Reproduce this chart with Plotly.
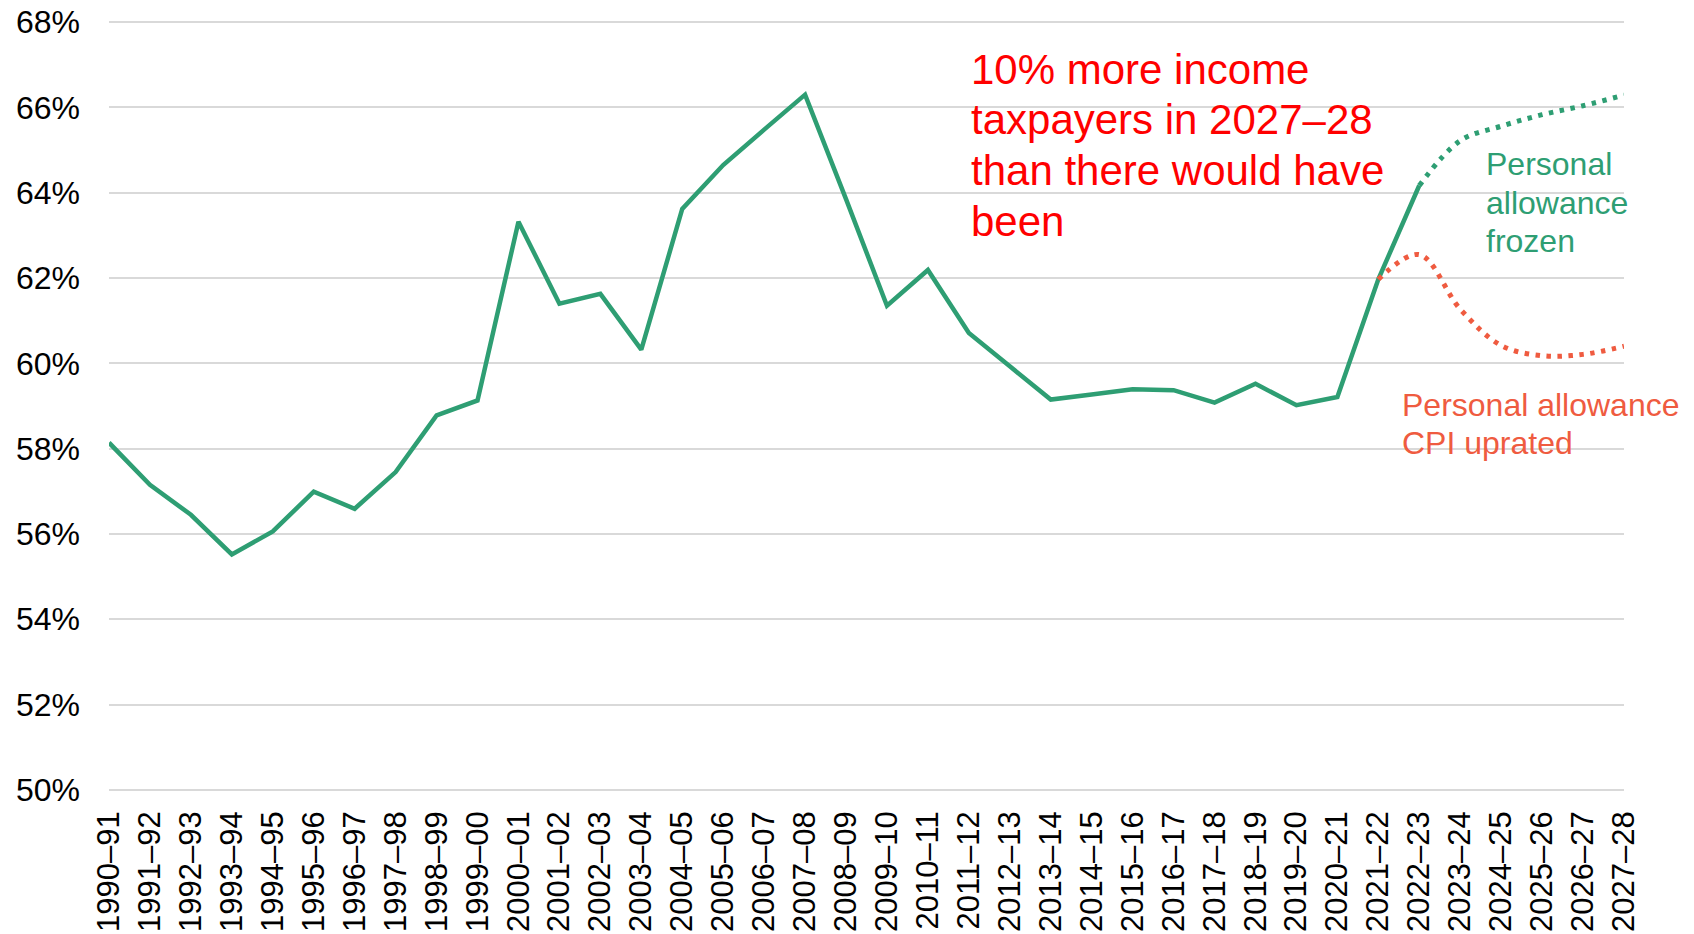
import plotly.graph_objects as go

# ---- data ----
years = ["1990–91", "1991–92", "1992–93", "1993–94", "1994–95", "1995–96", "1996–97",
         "1997–98", "1998–99", "1999–00", "2000–01", "2001–02", "2002–03", "2003–04",
         "2004–05", "2005–06", "2006–07", "2007–08", "2008–09", "2009–10", "2010–11",
         "2011–12", "2012–13", "2013–14", "2014–15", "2015–16", "2016–17", "2017–18",
         "2018–19", "2019–20", "2020–21", "2021–22", "2022–23", "2023–24", "2024–25",
         "2025–26", "2026–27", "2027–28"]

outturn_years = years[:33]
outturn = [58.14, 57.15, 56.45, 55.52, 56.06, 56.99, 56.59, 57.45, 58.78, 59.13,
           63.32, 61.40, 61.63, 60.32, 63.62, 64.65, 65.48, 66.30, 63.85, 61.35,
           62.19, 60.71, 59.93, 59.15, 59.27, 59.39, 59.37, 59.08, 59.52, 59.02,
           59.21, 61.97, 64.17]

frozen_years = years[32:]
frozen = [64.17, 65.22, 65.56, 65.83, 66.04, 66.29]

cpi_years = years[31:]
cpi = [61.97, 62.55, 61.27, 60.42, 60.18, 60.21, 60.40]

y_ticks = [50, 52, 54, 56, 58, 60, 62, 64, 66, 68]
y_tick_labels = ["50%", "52%", "54%", "56%", "58%", "60%", "62%", "64%", "66%", "68%"]

headline = ["10% more income", "taxpayers in 2027–28", "than there would have", "been"]
frozen_label = ["Personal", "allowance", "frozen"]
cpi_label = ["Personal allowance", "CPI uprated"]

# ---- style ----
GREEN = "#2E9E73"
ORANGE = "#EF5B40"
RED = "#FF0000"
FONT = "Arial, Liberation Sans, sans-serif"

W, H = 1694, 934
Y0, Y1 = 49.95, 68.05
L, R, T, B = 109, 70, 19.5, 142
PW, PH = W - L - R, H - T - B


def px_x(px):
    return (px - L) / PW


def px_y(py):
    return (H - B - py) / PH


fig = go.Figure()
fig.add_trace(go.Scatter(x=outturn_years, y=outturn, mode="lines",
                         line=dict(color=GREEN, width=4.5), hoverinfo="skip"))
fig.add_trace(go.Scatter(x=frozen_years, y=frozen, mode="lines",
                         line=dict(color=GREEN, width=5, dash="4.5px,6.5px", shape="spline"),
                         hoverinfo="skip"))
fig.add_trace(go.Scatter(x=cpi_years, y=cpi, mode="lines",
                         line=dict(color=ORANGE, width=5, dash="4.5px,6.5px", shape="spline"),
                         hoverinfo="skip"))

annotations = []


def add_lines(lines, left, baselines, size, color):
    for txt, base in zip(lines, baselines):
        annotations.append(dict(
            text=txt, xref="paper", yref="paper",
            x=px_x(left), y=px_y(base - 0.32 * size),
            xanchor="left", yanchor="middle", showarrow=False,
            font=dict(family=FONT, size=size, color=color)))


add_lines(headline, 969, [82, 133, 184, 235], 42, RED)
add_lines(frozen_label, 1484, [174, 212.5, 251], 32, GREEN)
add_lines(cpi_label, 1400, [414.5, 453], 32, ORANGE)

fig.update_layout(
    width=W, height=H,
    margin=dict(l=L, r=R, t=T, b=B, autoexpand=False),
    paper_bgcolor="white", plot_bgcolor="white",
    showlegend=False,
    font=dict(family=FONT, size=32, color="black"),
    annotations=annotations,
    xaxis=dict(type="category", categoryorder="array", categoryarray=years,
               range=[0, len(years) - 1], tickangle=-90, showgrid=False,
               showline=False, zeroline=False, ticks="", automargin=False,
               tickfont=dict(family=FONT, size=31, color="black"),
               ticklabelstandoff=12),
    yaxis=dict(range=[Y0, Y1], tickmode="array", tickvals=y_ticks, ticktext=y_tick_labels,
               showgrid=True, gridcolor="#D9D9D9", gridwidth=1.6,
               showline=False, zeroline=False, ticks="", automargin=False,
               tickfont=dict(family=FONT, size=32, color="black"),
               ticklabelstandoff=28),
)

fig.write_html("out.html")
